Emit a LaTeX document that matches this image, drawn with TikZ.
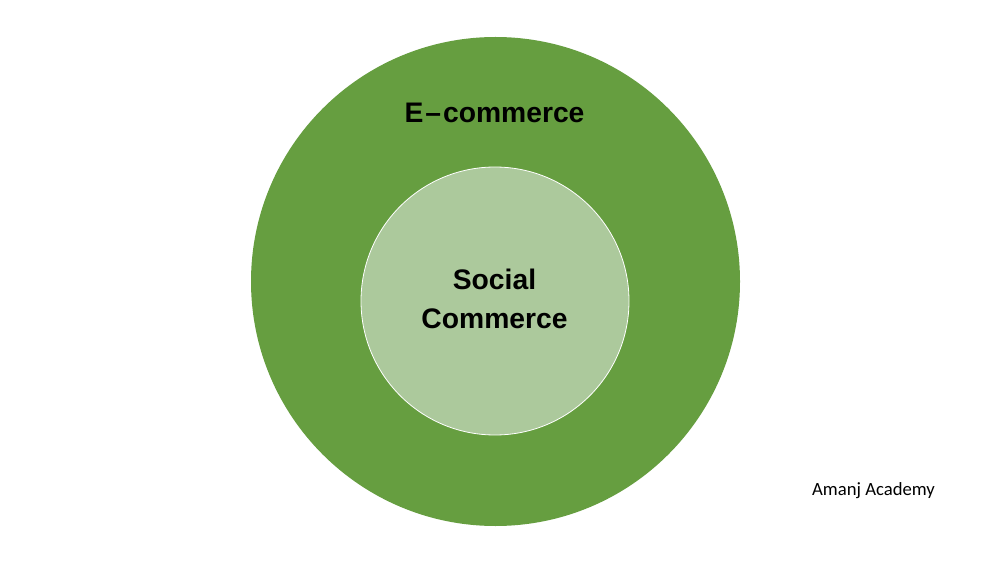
\documentclass[tikz,border=0pt]{standalone}
\usepackage{fontspec}
\setmainfont{Liberation Sans}
\newfontfamily\notefont{Carlito}
\usepackage{xcolor}
\usepackage{tikz}
\usetikzlibrary{positioning}
\definecolor{leafgreen}{HTML}{669E40}
\definecolor{sagegreen}{HTML}{ACC99C}
\definecolor{inkblack}{HTML}{000000}

\begin{document}
\begin{tikzpicture}[x=0.75pt,y=-0.75pt]
  % page box
  \useasboundingbox (0,0) rectangle (1000,563);
  % outer ring
  \fill[leafgreen] (495.5,281.5) circle (244.5);
  % inner disc
  \filldraw[sagegreen, draw=white, line width=0.6pt] (495,301) circle (134);
  % labels
  \node[font=\fontsize{21.2}{24}\selectfont\bfseries\color{inkblack}] (ecom) at (494.5,113) {E\kern1.5pt\textendash\kern1.5pt commerce};
  \node[align=center, font=\fontsize{21.2}{29.3}\selectfont\bfseries\color{inkblack}] (social) at (494.5,299) {Social\\Commerce};
  \node[font=\fontsize{14}{16}\selectfont\notefont\color{inkblack}] (credit) at (873.5,491) {Amanj Academy};
\end{tikzpicture}
\end{document}
